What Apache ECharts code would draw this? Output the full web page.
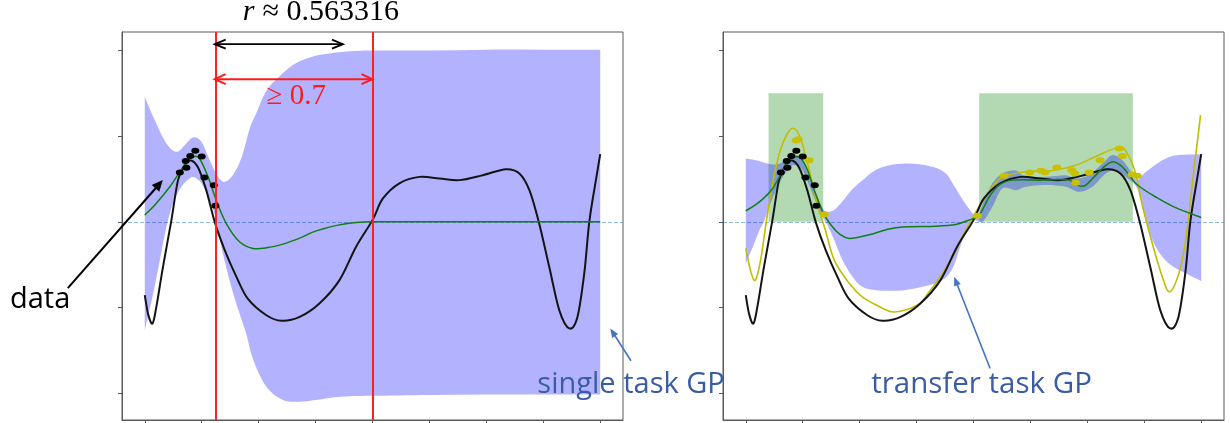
<!DOCTYPE html>
<html><head><meta charset="utf-8">
<script src="https://cdn.jsdelivr.net/npm/echarts@6/dist/echarts.min.js"></script>
<style>html,body{margin:0;padding:0;background:#fff}#c{width:1230px;height:423px}</style>
</head><body><div id="c"></div>
<script>
// ---------------- data ----------------
const xTicks = [-1, -0.75, -0.5, -0.25, 0, 0.25, 0.5, 0.75, 1];
const yTicks = [-2, -1, 0, 1, 2];

// true (target) function, same in both panels
const trueFn = [[-1.0,-0.855],[-0.985,-1.08],[-0.966,-1.186],[-0.949,-0.99],[-0.92,-0.525],[-0.883,0.02],[-0.854,0.487],[-0.825,0.66],[-0.80,0.72],[-0.766,0.635],[-0.73,0.37],[-0.693,0.0],[-0.649,-0.33],[-0.598,-0.64],[-0.547,-0.90],[-0.466,-1.09],[-0.40,-1.155],[-0.32,-1.11],[-0.232,-0.95],[-0.145,-0.68],[-0.072,-0.29],[0.0,0.02],[0.045,0.27],[0.118,0.45],[0.206,0.525],[0.294,0.506],[0.382,0.487],[0.484,0.545],[0.586,0.615],[0.645,0.565],[0.689,0.37],[0.73,0.0],[0.776,-0.525],[0.82,-1.03],[0.864,-1.244],[0.90,-1.11],[0.93,-0.60],[0.952,0.0],[0.981,0.487],[1.0,0.79]];

// observed target data
const obsPoints = [[-0.846,0.576],[-0.817,0.63],[-0.82,0.71],[-0.80,0.77],[-0.778,0.83],[-0.75,0.763],[-0.738,0.518],[-0.697,0.428],[-0.69,0.187]];

// single task GP (left)
const meanLeft = [[-1,0.078],[-0.95,0.215],[-0.89,0.41],[-0.846,0.585],[-0.81,0.72],[-0.785,0.76],[-0.76,0.74],[-0.722,0.525],[-0.686,0.25],[-0.642,-0.02],[-0.584,-0.233],[-0.525,-0.31],[-0.46,-0.30],[-0.393,-0.26],[-0.32,-0.19],[-0.247,-0.105],[-0.13,-0.027],[0,0],[0.25,0],[0.5,0],[0.75,0],[1,0]];
const bandLeftUpper = [[-1,1.46],[-0.95,1.15],[-0.905,0.915],[-0.861,0.817],[-0.825,0.895],[-0.788,0.985],[-0.751,0.935],[-0.715,0.72],[-0.678,0.525],[-0.649,0.467],[-0.612,0.55],[-0.575,0.75],[-0.539,1.09],[-0.51,1.27],[-0.466,1.53],[-0.408,1.70],[-0.35,1.83],[-0.306,1.89],[-0.25,1.94],[-0.189,1.965],[-0.1,1.99],[0,2.0],[0.25,2.0],[0.5,2.01],[0.75,2.01],[1,2.01]];
const bandLeftLower = [[-1,-1.27],[-0.963,-0.835],[-0.934,-0.447],[-0.905,-0.058],[-0.876,0.215],[-0.839,0.41],[-0.803,0.506],[-0.781,0.518],[-0.751,0.448],[-0.715,0.253],[-0.686,0.02],[-0.657,-0.37],[-0.62,-0.76],[-0.584,-1.07],[-0.555,-1.30],[-0.525,-1.60],[-0.466,-1.925],[-0.393,-2.08],[-0.32,-2.10],[-0.25,-2.08],[-0.174,-2.05],[-0.1,-2.035],[0,-2.03],[0.25,-2.02],[0.5,-2.015],[0.75,-2.014],[1,-2.014]];

// transfer task GP (right)
const meanRight = [[-1.0,0.128],[-0.94,0.233],[-0.882,0.39],[-0.838,0.60],[-0.808,0.72],[-0.779,0.76],[-0.757,0.74],[-0.728,0.60],[-0.699,0.37],[-0.662,0.117],[-0.625,-0.04],[-0.589,-0.14],[-0.545,-0.194],[-0.457,-0.15],[-0.38,-0.09],[-0.311,-0.06],[-0.165,-0.05],[-0.078,-0.03],[-0.02,0.02],[0.025,0.078],[0.069,0.29],[0.113,0.43],[0.171,0.487],[0.303,0.487],[0.376,0.495],[0.42,0.487],[0.464,0.42],[0.493,0.43],[0.537,0.545],[0.581,0.66],[0.617,0.70],[0.654,0.64],[0.69,0.525],[0.72,0.43],[0.80,0.29],[0.88,0.175],[1.0,0.05]];
const bandRightUpper = [[-1.0,0.74],[-0.954,0.72],[-0.904,0.68],[-0.87,0.67],[-0.838,0.70],[-0.808,0.76],[-0.779,0.78],[-0.75,0.72],[-0.721,0.525],[-0.691,0.33],[-0.662,0.156],[-0.64,0.117],[-0.611,0.14],[-0.575,0.24],[-0.536,0.37],[-0.49,0.48],[-0.433,0.60],[-0.37,0.66],[-0.30,0.68],[-0.23,0.67],[-0.166,0.63],[-0.12,0.56],[-0.092,0.45],[-0.048,0.26],[-0.004,0.1],[0.018,0.07],[0.047,0.253],[0.083,0.45],[0.127,0.565],[0.186,0.60],[0.23,0.525],[0.318,0.525],[0.405,0.545],[0.449,0.506],[0.508,0.545],[0.566,0.68],[0.61,0.78],[0.654,0.72],[0.697,0.565],[0.719,0.49],[0.741,0.545],[0.785,0.64],[0.844,0.74],[0.902,0.78],[1.0,0.79]];
const bandRightLower = [[-1.0,-0.486],[-0.969,-0.29],[-0.94,-0.097],[-0.918,0.02],[-0.889,0.233],[-0.867,0.37],[-0.845,0.487],[-0.823,0.583],[-0.794,0.66],[-0.764,0.64],[-0.743,0.565],[-0.713,0.37],[-0.684,0.175],[-0.662,0.058],[-0.645,-0.02],[-0.618,-0.175],[-0.575,-0.447],[-0.531,-0.64],[-0.487,-0.76],[-0.414,-0.80],[-0.311,-0.80],[-0.209,-0.75],[-0.136,-0.68],[-0.092,-0.544],[-0.063,-0.33],[-0.033,-0.097],[-0.004,0.02],[0.025,0.0],[0.047,0.02],[0.083,0.175],[0.127,0.39],[0.186,0.37],[0.23,0.41],[0.318,0.43],[0.405,0.41],[0.464,0.35],[0.522,0.41],[0.581,0.565],[0.625,0.60],[0.668,0.525],[0.712,0.42],[0.734,0.253],[0.756,0.02],[0.8,-0.29],[0.858,-0.486],[0.932,-0.60],[1.0,-0.69]];

// source task function and data
const sourceFn = [[-1.0,-0.31],[-0.978,-0.58],[-0.958,-0.68],[-0.935,-0.45],[-0.91,0.0],[-0.882,0.45],[-0.85,0.82],[-0.815,1.04],[-0.789,1.09],[-0.76,0.98],[-0.721,0.60],[-0.685,0.2],[-0.65,-0.1],[-0.611,-0.45],[-0.545,-0.72],[-0.487,-0.88],[-0.42,-0.98],[-0.359,-1.05],[-0.30,-1.03],[-0.24,-0.96],[-0.195,-0.82],[-0.14,-0.62],[-0.092,-0.41],[-0.05,-0.18],[-0.011,0.02],[0.03,0.2],[0.083,0.41],[0.127,0.525],[0.23,0.585],[0.347,0.60],[0.449,0.66],[0.551,0.78],[0.64,0.87],[0.675,0.80],[0.712,0.565],[0.741,0.2],[0.785,-0.25],[0.829,-0.64],[0.861,-0.817],[0.902,-0.60],[0.932,-0.21],[0.961,0.45],[0.997,1.245]];
const sourcePoints = [[-0.779,0.95],[-0.77,0.965],[-0.722,0.72],[-0.655,0.09],[0.018,0.07],[0.135,0.537],[0.247,0.576],[0.296,0.595],[0.314,0.58],[0.366,0.635],[0.432,0.603],[0.445,0.565],[0.449,0.455],[0.508,0.576],[0.556,0.72],[0.640,0.856],[0.654,0.77],[0.697,0.553],[0.719,0.537]];
const sourceRegions = [[-0.90,-0.66],[0.025,0.70]];
const regionTop = 1.5;

// annotations (left panel)
const redLines = [-0.693, 0];
const rValue = 0.563316;
const minDist = 0.7;
const arrowY = { r: 2.074, dist: 1.665 };
const dataArrow = [[-1.338,-0.774],[-0.921,0.487]];
const singleArrow = [[1.135,-1.622],[1.044,-1.244]];
const transferArrow = [[0.073,-1.711],[-0.085,-0.642]];

// ---------------- chart ----------------
const chart = echarts.init(document.getElementById('c'), null, {renderer:'canvas'});
const axisColor = '#5a5a5a';
const SANS = '"Open Sans","Noto Sans",sans-serif';
const SERIF = '"Liberation Serif","DejaVu Serif",serif';

function catmull(pts, move) {
  let d = (move ? 'M' : 'L') + pts[0][0] + ',' + pts[0][1];
  for (let i = 0; i < pts.length - 1; i++) {
    const p0 = pts[i-1] || pts[i], p1 = pts[i], p2 = pts[i+1], p3 = pts[i+2] || pts[i+1];
    const c1x = p1[0] + (p2[0]-p0[0])/6, c1y = p1[1] + (p2[1]-p0[1])/6;
    const c2x = p2[0] - (p3[0]-p1[0])/6, c2y = p2[1] - (p3[1]-p1[1])/6;
    d += 'C' + c1x + ',' + c1y + ',' + c2x + ',' + c2y + ',' + p2[0] + ',' + p2[1];
  }
  return d;
}
function bandSeries(idx, upper, lower) {
  return {
    type:'custom', xAxisIndex:idx, yAxisIndex:idx, z:2, silent:true, data:[[0,0]],
    renderItem(params, api) {
      const up = upper.map(p => api.coord(p));
      const lo = lower.map(p => api.coord(p)).reverse();
      return {type:'path', shape:{pathData: catmull(up, true) + catmull(lo, false) + 'Z'},
              style:{fill:'rgba(0,0,255,0.3)'}};
    }
  };
}
function curveSeries(idx, data, color, width, z) {
  return {
    type:'custom', xAxisIndex:idx, yAxisIndex:idx, z, silent:true, data:[[0,0]],
    renderItem(params, api) {
      const pts = data.map(p => api.coord(p));
      return {type:'path', shape:{pathData: catmull(pts, true)},
              style:{fill:'none', stroke:color, lineWidth:width, lineJoin:'round'}};
    }
  };
}
function arrow(api, seg, color, width, type, L, W, both) {
  const a = api.coord(seg[0]), b = api.coord(seg[1]);
  const dx = b[0]-a[0], dy = b[1]-a[1], len = Math.hypot(dx,dy);
  const ux = dx/len, uy = dy/len, nx = -uy, ny = ux;
  const out = [];
  if (type === 'open') {
    out.push({type:'line', shape:{x1:a[0],y1:a[1],x2:b[0],y2:b[1]}, style:{stroke:color,lineWidth:width}});
    const head = (p, sx, sy) => ({type:'polyline', shape:{points:[[p[0]-sx*L+nx*W,p[1]-sy*L+ny*W],[p[0],p[1]],[p[0]-sx*L-nx*W,p[1]-sy*L-ny*W]]},
      style:{stroke:color,lineWidth:width,fill:'none',lineJoin:'miter'}});
    out.push(head(b, ux, uy));
    if (both) out.push(head(a, -ux, -uy));
  } else {
    out.push({type:'line', shape:{x1:a[0],y1:a[1],x2:b[0]-ux*L*0.8,y2:b[1]-uy*L*0.8}, style:{stroke:color,lineWidth:width}});
    out.push({type:'polygon', shape:{points:[[b[0],b[1]],[b[0]-ux*L+nx*W,b[1]-uy*L+ny*W],[b[0]-ux*L-nx*W,b[1]-uy*L-ny*W]]}, style:{fill:color}});
  }
  return out;
}
function text(api, str, pos, font, color, align) {
  const p = api.coord(pos);
  return {type:'text', x:p[0], y:p[1], style:{text:str, font:font, fill:color,
    align:align, verticalAlign:'middle', textAlign:align, textVerticalAlign:'middle'}};
}
function scatterS(idx, data, color, z, size) {
  return {type:'scatter', xAxisIndex:idx, yAxisIndex:idx, data, symbol:'circle', symbolSize:size,
          silent:true, z, itemStyle:{color, opacity:1}};
}
const zeroLine = {silent:true, symbol:'none', z:2, label:{show:false},
  lineStyle:{color:'rgba(31,119,180,0.5)', type:[4,2], width:1}, data:[{yAxis:0}]};

function grid(left) {
  return {left, top:32, width:501, height:388, show:true, borderColor:axisColor, borderWidth:1,
          backgroundColor:'transparent', outerBoundsMode:'none', containLabel:false};
}
function xAx(i) {
  return {type:'value', gridIndex:i, min:-1.1, max:1.1, splitLine:{show:false},
    axisLine:{show:true, onZero:false, lineStyle:{color:axisColor, width:1}},
    axisLabel:{show:false, customValues:xTicks},
    axisTick:{show:true, inside:false, length:4, customValues:xTicks, lineStyle:{color:axisColor}}};
}
function yAx(i) {
  return {type:'value', gridIndex:i, min:-2.313, max:2.216, splitLine:{show:false},
    axisLine:{show:true, onZero:false, lineStyle:{color:axisColor, width:1}},
    axisLabel:{show:false, customValues:yTicks},
    axisTick:{show:true, inside:false, length:4, customValues:yTicks, lineStyle:{color:axisColor}}};
}

const blue = '#3a5ca2', arrowBlue = '#4472c4';
function refSeries(idx, extra) {
  return Object.assign({type:'line', xAxisIndex:idx, yAxisIndex:idx, data:[[-1,0],[1,0]], symbol:'none',
    silent:true, lineStyle:{opacity:0}, z:1}, extra);
}

const option = {
  animation:false,
  grid:[grid(122), grid(723)],
  xAxis:[xAx(0), xAx(1)],
  yAxis:[yAx(0), yAx(1)],
  series:[
    // ----- left panel -----
    bandSeries(0, bandLeftUpper, bandLeftLower),
    refSeries(0, {markLine: zeroLine}),
    curveSeries(0, trueFn, '#141414', 2, 3),
    curveSeries(0, meanLeft, '#118011', 1.5, 4),
    refSeries(0, {markLine:{silent:true, symbol:'none', z:6, label:{show:false},
        lineStyle:{color:'#ff2020', width:2, type:'solid'}, data: redLines.map(v => ({xAxis:v}))}}),
    scatterS(0, obsPoints, '#000', 5, [8,6]),
    {type:'custom', xAxisIndex:0, yAxisIndex:0, z:10, silent:true, clip:false, data:[[0,0]],
     renderItem(params, api) {
       const x0 = redLines[0];
       const ch = [].concat(
         arrow(api, [[x0, arrowY.r],[x0 + rValue, arrowY.r]], '#000', 1.8, 'open', 11, 4.5, true),
         arrow(api, [[x0, arrowY.dist],[redLines[1], arrowY.dist]], '#ff1a1a', 2, 'open', 11, 5, true),
         arrow(api, dataArrow, '#000', 2, 'filled', 11, 5),
         arrow(api, singleArrow, arrowBlue, 1.6, 'filled', 9, 3.5),
         [text(api, 'r', [-0.570, 2.447], 'italic 30px ' + SERIF, '#000', 'left'),
          text(api, '≈ ' + rValue, [-0.4825, 2.447], '30px ' + SERIF, '#000', 'left'),
          text(api, '≥ ' + minDist, [-0.335, 1.467], '29px ' + SERIF, '#ff1a1a', 'center'),
          text(api, 'data', [-1.592, -0.914], '29px ' + SANS, '#000', 'left'),
          text(api, 'single task GP', [0.724, -1.905], '29px ' + SANS, blue, 'left')]
       );
       return {type:'group', children:ch};
     }},
    // ----- right panel -----
    refSeries(1, {markArea:{silent:true, z:1, itemStyle:{color:'rgba(0,128,0,0.3)'},
        data: sourceRegions.map(r => [{xAxis:r[0], yAxis:0},{xAxis:r[1], yAxis:regionTop}])},
      markLine: zeroLine}),
    bandSeries(1, bandRightUpper, bandRightLower),
    curveSeries(1, sourceFn, '#c2bd00', 1.6, 3),
    curveSeries(1, trueFn, '#141414', 2, 3),
    curveSeries(1, meanRight, '#118011', 1.5, 4),
    scatterS(1, sourcePoints, '#c8c000', 5, [9,6]),
    scatterS(1, obsPoints, '#000', 5, [8,6]),
    {type:'custom', xAxisIndex:1, yAxisIndex:1, z:10, silent:true, clip:false, data:[[0,0]],
     renderItem(params, api) {
       const ch = [].concat(
         arrow(api, transferArrow, arrowBlue, 1.6, 'filled', 9, 3.5),
         [text(api, 'transfer task GP', [-0.449, -1.905], '29.5px ' + SANS, blue, 'left')]
       );
       return {type:'group', children:ch};
     }}
  ]
};
chart.setOption(option);
</script></body></html>
